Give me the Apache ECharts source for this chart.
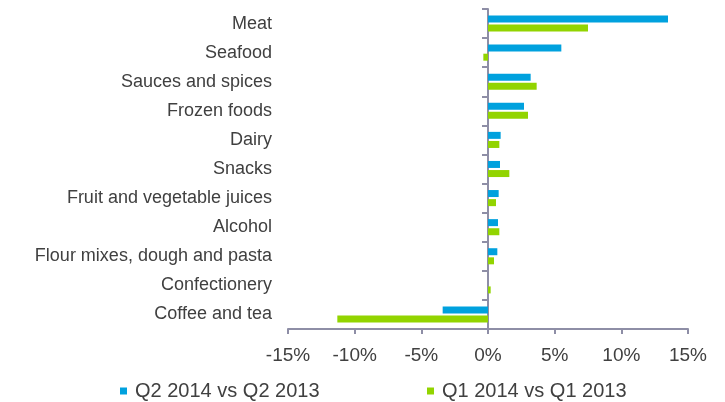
<!DOCTYPE html>
<html>
<head>
<meta charset="utf-8">
<script src="https://cdn.jsdelivr.net/npm/echarts@6/dist/echarts.min.js"></script>
<style>html,body{margin:0;padding:0;background:#fff;}#c{width:725px;height:402px;}</style>
</head>
<body>
<div id="c"></div>
<script>
const categories = ["Meat","Seafood","Sauces and spices","Frozen foods","Dairy","Snacks","Fruit and vegetable juices","Alcohol","Flour mixes, dough and pasta","Confectionery","Coffee and tea"];
const q2Values = [13.5, 5.5, 3.2, 2.7, 0.95, 0.9, 0.8, 0.75, 0.7, 0, -3.4];
const q1Values = [7.5, -0.35, 3.65, 3.0, 0.85, 1.6, 0.6, 0.85, 0.45, 0.2, -11.3];
const xTicks = [-15, -10, -5, 0, 5, 10, 15];
const seriesNames = ["Q2 2014 vs Q2 2013", "Q1 2014 vs Q1 2013"];

const axisColor = '#8e8ea6';
const textColor = '#404040';
const font = 'Liberation Sans, Arial, sans-serif';

const chart = echarts.init(document.getElementById('c'), null, {renderer: 'canvas'});
chart.setOption({
  animation: false,
  grid: {left: 288, right: 37, top: 9, bottom: 73, containLabel: false},
  xAxis: {
    type: 'value', min: xTicks[0], max: xTicks[xTicks.length - 1], interval: 5,
    axisLine: {show: true, onZero: false, lineStyle: {color: axisColor, width: 2}},
    axisTick: {show: true, length: 5, lineStyle: {color: axisColor, width: 2}},
    splitLine: {show: false},
    axisLabel: {formatter: v => v + '%', color: textColor, fontSize: 19, fontFamily: font, margin: 17}
  },
  yAxis: [
    {
      type: 'category', data: categories, inverse: true, position: 'left',
      axisLine: {show: false, onZero: false}, axisTick: {show: false},
      axisLabel: {color: textColor, fontSize: 18, fontFamily: font, margin: 16}
    },
    {
      type: 'category', data: categories, inverse: true, position: 'left',
      axisLine: {show: true, onZero: true, onZeroAxisIndex: 0, lineStyle: {color: axisColor, width: 2}},
      axisTick: {show: true, length: 6, lineStyle: {color: axisColor, width: 2}},
      axisLabel: {show: false}
    }
  ],
  legend: [
    {data: [seriesNames[0]], left: 120, top: 381, padding: 0, icon: 'rect', itemWidth: 7, itemHeight: 7,
     textStyle: {color: textColor, fontSize: 20, fontFamily: font, padding: [0, 0, 0, 3]}},
    {data: [seriesNames[1]], left: 427, top: 381, padding: 0, icon: 'rect', itemWidth: 7, itemHeight: 7,
     textStyle: {color: textColor, fontSize: 20, fontFamily: font, padding: [0, 0, 0, 3]}}
  ],
  series: [
    {name: seriesNames[0], type: 'bar', data: q2Values, yAxisIndex: 0, barWidth: 7, barGap: '30%',
     itemStyle: {color: '#00a1de'}},
    {name: seriesNames[1], type: 'bar', data: q1Values, yAxisIndex: 0, barWidth: 7, barGap: '30%',
     itemStyle: {color: '#92d400'}}
  ]
});
</script>
</body>
</html>
